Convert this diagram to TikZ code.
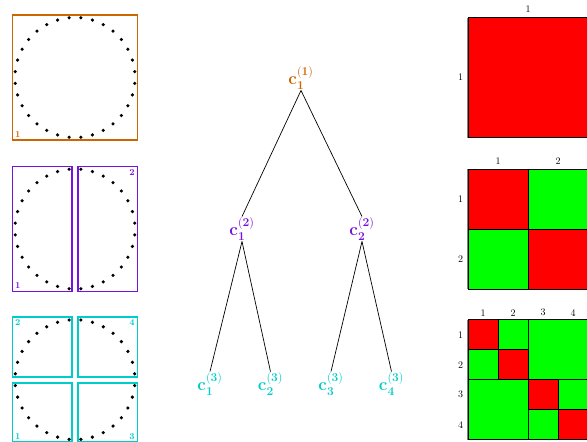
\documentclass[tikz,border=0pt]{standalone}
\usepackage{amsmath}
\definecolor{naranja}{RGB}{204,102,0}
\definecolor{violeta}{RGB}{119,17,221}
\definecolor{turquesa}{RGB}{0,204,204}
\definecolor{rojo}{RGB}{255,0,0}
\definecolor{verde}{RGB}{0,255,0}
\begin{document}
\begin{tikzpicture}[x=1pt,y=-1pt,
    punto/.style={fill=black},
    caja/.style={line width=1.8pt},
    etiq/.style={font=\small\bfseries,inner sep=2.5pt},
    nodo/.style={font=\LARGE,inner sep=1pt},
    rama/.style={line width=0.7pt},
    celdaR/.style={draw=black,fill=rojo,line width=0.7pt},
    celdaV/.style={draw=black,fill=verde,line width=0.7pt},
    borde/.style={gray,line width=1pt}]
    \clip (0,0) rectangle (587,442);
    % Nivel 1
    \begin{scope}[shift={(0,77.5)}]
        \foreach \i in {0,...,31}
            \fill[punto] ({75+60*cos((\i+0.5)*11.25)},{60*sin((\i+0.5)*11.25)}) circle[radius=1.8pt];
        \draw[caja,naranja] (12.5,-62.5) rectangle (137.5,62.5);
        \node[etiq,text=naranja,anchor=south west] (e11) at (12.5,62.5) {1};
        % matriz
        \draw[celdaR] (468,-60) rectangle (588,60);
        \draw[borde] (467.3,-60) -- (467.3,60);
        \node (a11) at (528,-68.5) {1};
        \node (b11) at (460.5,0) {1};
    \end{scope}
    % Nivel 2
    \begin{scope}[shift={(0,229)}]
        \foreach \i in {0,...,31}
            \fill[punto] ({75+60*cos((\i+0.5)*11.25)},{60*sin((\i+0.5)*11.25)}) circle[radius=1.8pt];
        \draw[caja,violeta] (12.5,-62.5) rectangle (71.9,62.5);
        \draw[caja,violeta] (78.1,-62.5) rectangle (137.5,62.5);
        \node[etiq,text=violeta,anchor=south west] (e21) at (12.5,62.5) {1};
        \node[etiq,text=violeta,anchor=north east] (e22) at (137.5,-62.5) {2};
        % matriz
        \draw[celdaR] (468,-60) rectangle (528,0);
        \draw[celdaV] (528,-60) rectangle (588,0);
        \draw[celdaV] (468,0) rectangle (528,60);
        \draw[celdaR] (528,0) rectangle (588,60);
        \draw[borde] (467.3,-60) -- (467.3,60);
        \node (a21) at (498,-68) {1};
        \node (a22) at (558,-68) {2};
        \node (b21) at (460.5,-30) {1};
        \node (b22) at (460.5,30) {2};
    \end{scope}
    % Nivel 3
    \begin{scope}[shift={(0,379.7)}]
        \foreach \i in {0,...,31}
            \fill[punto] ({75+60*cos((\i+0.5)*11.25)},{60*sin((\i+0.5)*11.25)}) circle[radius=1.8pt];
        \draw[caja,turquesa] (12.5,-62.5) rectangle (71.9,-3.1);
        \draw[caja,turquesa] (78.1,-62.5) rectangle (137.5,-3.1);
        \draw[caja,turquesa] (12.5,3.1) rectangle (71.9,62.5);
        \draw[caja,turquesa] (78.1,3.1) rectangle (137.5,62.5);
        \node[etiq,text=turquesa,anchor=north west] (e32) at (12.5,-62.5) {2};
        \node[etiq,text=turquesa,anchor=north east] (e34) at (137.5,-62.5) {4};
        \node[etiq,text=turquesa,anchor=south west] (e31) at (12.5,62.5) {1};
        \node[etiq,text=turquesa,anchor=south east] (e33) at (137.5,62.5) {3};
        % matriz
        \draw[celdaR] (468,-60) rectangle (498,-30);
        \draw[celdaV] (498,-60) rectangle (528,-30);
        \draw[celdaV] (468,-30) rectangle (498,0);
        \draw[celdaR] (498,-30) rectangle (528,0);
        \draw[celdaV] (528,-60) rectangle (588,0);
        \draw[celdaV] (468,0) rectangle (528,60);
        \draw[celdaR] (528,0) rectangle (558,30);
        \draw[celdaV] (558,0) rectangle (588,30);
        \draw[celdaV] (528,30) rectangle (558,60);
        \draw[celdaR] (558,30) rectangle (588,60);
        \draw[borde] (467.3,-60) -- (467.3,60);
        \foreach \k in {1,...,4} {
            \node (a3\k) at ({453+30*\k},-67) {\k};
            \node (b3\k) at (460.5,{-75+30*\k}) {\k};
        }
    \end{scope}
    % Arbol
    \node[nodo,text=naranja] (c1) at (301,78) {$\mathbf{c_1^{(1)}}$};
    \node[nodo,text=violeta] (c21) at (242,229) {$\mathbf{c_1^{(2)}}$};
    \node[nodo,text=violeta] (c22) at (362,229) {$\mathbf{c_2^{(2)}}$};
    \node[nodo,text=turquesa] (c31) at (210,384) {$\mathbf{c_1^{(3)}}$};
    \node[nodo,text=turquesa] (c32) at (270.5,384) {$\mathbf{c_2^{(3)}}$};
    \node[nodo,text=turquesa] (c33) at (331,384) {$\mathbf{c_3^{(3)}}$};
    \node[nodo,text=turquesa] (c34) at (391.5,384) {$\mathbf{c_4^{(3)}}$};
    \draw[rama] (c1.south) -- (c21.north);
    \draw[rama] (c1.south) -- (c22.north);
    \draw[rama] (c21.south) -- (c31.north);
    \draw[rama] (c21.south) -- (c32.north);
    \draw[rama] (c22.south) -- (c33.north);
    \draw[rama] (c22.south) -- (c34.north);
\end{tikzpicture}
\end{document}
